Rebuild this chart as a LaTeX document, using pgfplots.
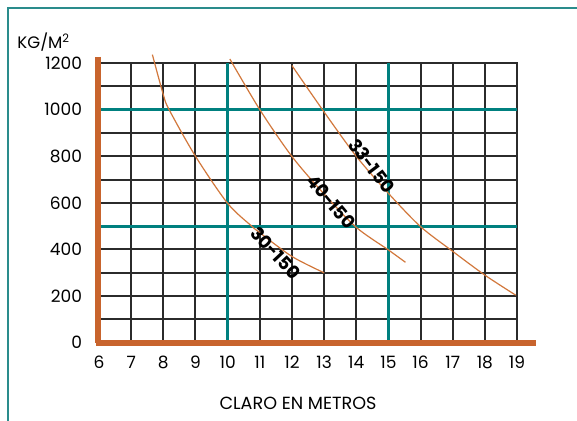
\documentclass[border=0pt]{standalone}
\usepackage{fontspec}
\setmainfont{Poppins}
\usepackage{pgfplots}
\pgfplotsset{compat=1.18}
\definecolor{gridc}{HTML}{2B2B2B}
\definecolor{tealc}{HTML}{00807F}
\definecolor{axorange}{HTML}{C8642D}
\definecolor{curveo}{HTML}{D2783C}
\definecolor{framec}{HTML}{2A8C8C}
\begin{document}
\begin{tikzpicture}
\useasboundingbox (0,0) rectangle (288.5pt,-210.5pt);
\fill[white] (0,0) rectangle (288.5pt,-210.5pt);
\draw[framec, line width=0.6pt] (4pt,-212pt) -- (4pt,-4pt) -- (290pt,-4pt);
\node[anchor=west, inner sep=0pt, font=\fontsize{8.3}{9}\selectfont] at (8.5pt,-21pt) {KG/M\textsuperscript{2}};
\node[inner sep=0pt, font=\fontsize{8.8}{10}\selectfont] at (149pt,-201.5pt) {CLARO EN METROS};
\begin{axis}[
  at={(49.5pt,-171.35pt)}, anchor=south west,
  scale only axis, width=209pt, height=139.85pt,
  xmin=6, xmax=19, ymin=0, ymax=1200,
  clip=false,
  xtick={6,...,19}, ytick={0,200,...,1200},
  minor ytick={100,300,...,1100},
  grid=both,
  major grid style={draw=gridc, line width=1pt},
  minor grid style={draw=gridc, line width=1pt},
  axis line style={draw=gridc, line width=1pt},
  major tick length=0pt, minor tick length=0pt,
  tick style={draw=none},
  /pgf/number format/assume math mode=true,
  /pgf/number format/1000 sep={},
  ticklabel style={font=\fontsize{8.5}{10}\selectfont, text=black},
  xticklabel style={yshift=-3pt},
  yticklabel style={xshift=-5pt},
]
\draw[tealc, line width=1.5pt] (axis cs:10,0) -- (axis cs:10,1200);
\draw[tealc, line width=1.5pt] (axis cs:15,0) -- (axis cs:15,1200);
\draw[tealc, line width=1.5pt] (axis cs:6,500) -- (axis cs:19,500);
\draw[tealc, line width=1.5pt] (axis cs:6,1000) -- (axis cs:19,1000);
\addplot[curveo, line width=0.6pt, smooth, no marks] coordinates {
(7.66,1236) (8,1064) (8.18,1000) (9,800) (10,598) (10.75,500) (11,472) (12,370) (13,300)};
\addplot[curveo, line width=0.6pt, smooth, no marks] coordinates {
(10.07,1217) (11,1000) (12,799) (13,638) (14,495) (15,398) (15.53,345)};
\addplot[curveo, line width=0.6pt, smooth, no marks] coordinates {
(12,1189) (13,990) (14,800) (15,641) (16,498) (17,392) (18,290) (18.96,204)};
\draw[axorange, line width=3pt] (axis cs:5.97,1226) -- (axis cs:5.97,-3);
\draw[axorange, line width=3pt] (axis cs:5.92,0) -- (axis cs:19.58,0);
\node[rotate=-47, font=\bfseries\fontsize{9}{10}\selectfont, inner sep=0pt] at (axis cs:11.5,385) {30-150};
\node[rotate=-50, font=\bfseries\fontsize{9}{10}\selectfont, inner sep=0pt] at (axis cs:13.22,605) {40-150};
\node[rotate=-53, font=\bfseries\fontsize{9}{10}\selectfont, inner sep=0pt] at (axis cs:14.48,758) {33-150};
\end{axis}
\end{tikzpicture}
\end{document}
